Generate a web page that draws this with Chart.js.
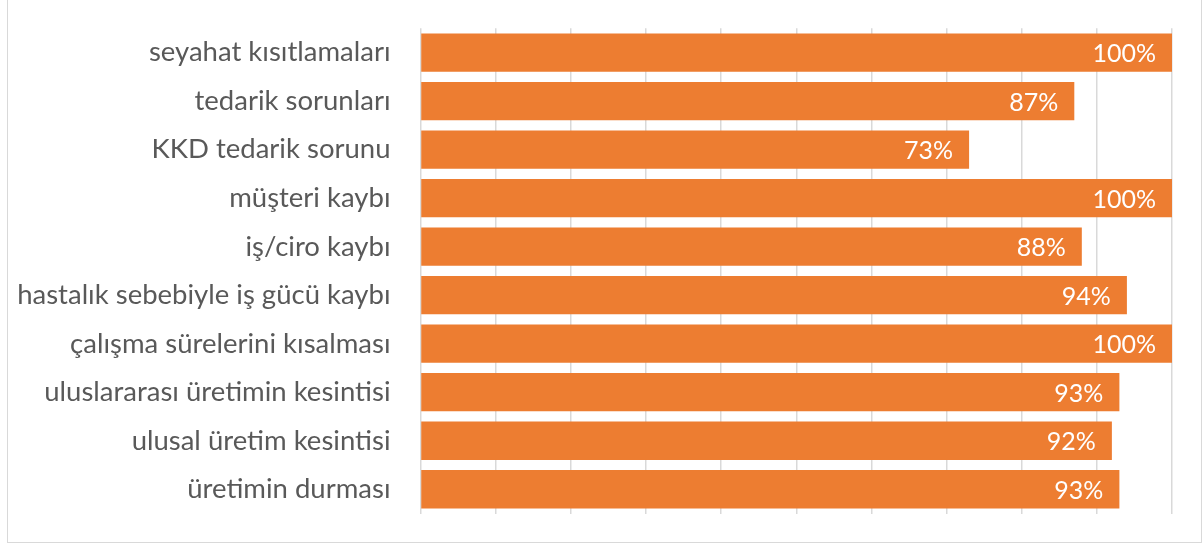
<!DOCTYPE html>
<html><head><meta charset="utf-8">
<script src="https://cdn.jsdelivr.net/npm/chart.js@4.4.0/dist/chart.umd.min.js"></script>
<style>
html,body{margin:0;padding:0;background:#fff;overflow:hidden}
#wrap{position:absolute;left:0;top:0;width:1202px;height:544px}
#frame{position:absolute;left:7px;top:-2px;width:1195px;height:545px;border:1.5px solid #d9d9d9;box-sizing:border-box}
</style></head><body>
<div id="wrap"><div id="frame"></div><canvas id="c" width="1202" height="544"></canvas></div>
<script>
const categories = ["seyahat kısıtlamaları","tedarik sorunları","KKD tedarik sorunu","müşteri kaybı","iş/ciro kaybı","hastalık sebebiyle iş gücü kaybı","çalışma sürelerini kısalması","uluslararası üretimin kesintisi","ulusal üretim kesintisi","üretimin durması"];
const values = [100,87,73,100,88,94,100,93,92,93];
const labelFmt = v => v + "%";

const FONT = "Lato";
const valueLabels = {
  id:'valueLabels',
  afterDatasetsDraw(chart){
    const ctx = chart.ctx;
    const meta = chart.getDatasetMeta(0);
    ctx.save();
    ctx.fillStyle = '#ffffff';
    ctx.font = "25px "+FONT;
    ctx.textAlign = 'right';
    ctx.textBaseline = 'middle';
    meta.data.forEach((bar,i)=>{
      ctx.fillText(labelFmt(values[i]), bar.x - 16, bar.y + 1.5);
    });
    ctx.restore();
  }
};

new Chart(document.getElementById('c'), {
  type:'bar',
  data:{labels:categories, datasets:[{data:values, backgroundColor:'#ED7D31', borderWidth:0, categoryPercentage:1, barPercentage:0.79}]},
  options:{
    indexAxis:'y', responsive:false, animation:false,
    layout:{padding:{top:28.3,bottom:30.5,right:30,left:0}},
    plugins:{legend:{display:false}, tooltip:{enabled:false}},
    scales:{
      x:{min:0,max:100,ticks:{display:false,stepSize:10},grid:{color:'#d9d9d9',lineWidth:1.5,drawTicks:false},border:{display:false},
         afterFit(s){s.height=0;s.paddingLeft=0;s.paddingRight=0;}},
      y:{grid:{display:false,drawTicks:false},border:{display:false},
         ticks:{color:'#595959',font:{family:FONT,size:27.5},padding:30},
         afterFit(s){s.width=420.5;s.paddingTop=0;s.paddingBottom=0;}}
    }
  },
  plugins:[valueLabels]
});
</script></body></html>
